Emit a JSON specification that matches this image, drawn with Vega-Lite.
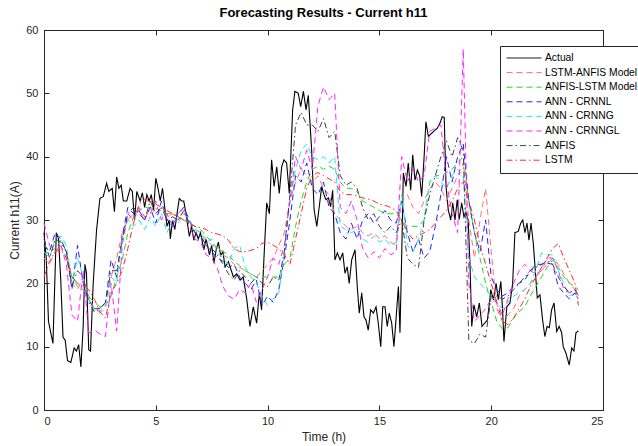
{
  "$schema": "https://vega.github.io/schema/vega-lite/v6.json",
  "width": 559,
  "height": 380,
  "autosize": {"type": "none"},
  "padding": {"left": 44, "top": 30, "right": 35, "bottom": 36},
  "background": "white",
  "title": {"text": "Forecasting Results - Current h11", "fontSize": 13, "fontWeight": "bold", "font": "Liberation Sans", "color": "#000000", "offset": 4},
  "config": {
    "view": {"stroke": "#262626", "strokeWidth": 1},
    "axis": {"domainColor": "#262626", "tickColor": "#262626", "labelColor": "#262626", "titleColor": "#262626", "tickSize": -5, "labelFont": "Liberation Sans", "titleFont": "Liberation Sans", "labelFontSize": 11, "titleFontSize": 12, "titleFontWeight": "normal", "grid": false},
    "legend": {"orient": "none", "legendX": 456, "legendY": 16, "title": null, "symbolType": "stroke", "symbolSize": 1225, "symbolStrokeWidth": 1, "clipHeight": 12, "labelFont": "Liberation Sans", "labelFontSize": 10.3, "labelColor": "#000000", "labelOffset": 3, "labelLimit": 200, "padding": 6, "rowPadding": 2.6, "fillColor": "white", "strokeColor": "#262626", "strokeWidth": 1, "cornerRadius": 0}
  },
  "resolve": {"axis": {"x": "independent", "y": "independent"}},
  "layer": [
    {
      "data": {"values": [
        {"t":0.0,"A":28},{"t":0.1,"A":24},{"t":0.2,"A":14},{"t":0.4,"A":10.5},{"t":0.55,"A":28},{"t":0.65,"A":27},{"t":0.75,"A":20.5},{"t":0.85,"A":11.5},{"t":0.95,"A":11},{"t":1.05,"A":7.8},{"t":1.2,"A":7.5},{"t":1.35,"A":9.8},{"t":1.45,"A":9.3},{"t":1.55,"A":10.3},{"t":1.65,"A":6.8},{"t":1.75,"A":13},{"t":1.83,"A":23},{"t":1.9,"A":21.6},{"t":2.0,"A":9.5},{"t":2.08,"A":9.3},{"t":2.2,"A":20},{"t":2.35,"A":28.4},{"t":2.5,"A":33.4},{"t":2.65,"A":33.7},{"t":2.8,"A":35.8},{"t":2.9,"A":34.5},{"t":3.05,"A":35},{"t":3.15,"A":31.3},{"t":3.25,"A":36.8},{"t":3.35,"A":35},{"t":3.45,"A":35.5},{"t":3.55,"A":33},{"t":3.7,"A":33},{"t":3.85,"A":35},{"t":3.95,"A":34.5},{"t":4.05,"A":30},{"t":4.15,"A":34.5},{"t":4.3,"A":33},{"t":4.4,"A":34.3},{"t":4.5,"A":32},{"t":4.6,"A":34},{"t":4.7,"A":33},{"t":4.8,"A":34},{"t":4.9,"A":31.6},{"t":5.0,"A":36.6},{"t":5.1,"A":35},{"t":5.2,"A":33},{"t":5.3,"A":35},{"t":5.4,"A":32},{"t":5.5,"A":29},{"t":5.6,"A":30},{"t":5.65,"A":27},{"t":5.75,"A":30},{"t":5.85,"A":28.5},{"t":5.95,"A":31},{"t":6.05,"A":33.4},{"t":6.15,"A":33},{"t":6.25,"A":33},{"t":6.35,"A":31},{"t":6.5,"A":27.4},{"t":6.6,"A":29},{"t":6.7,"A":26.8},{"t":6.8,"A":28},{"t":6.9,"A":27},{"t":7.0,"A":28},{"t":7.15,"A":25.3},{"t":7.25,"A":27},{"t":7.4,"A":24.5},{"t":7.5,"A":26},{"t":7.6,"A":23.2},{"t":7.7,"A":25.3},{"t":7.8,"A":26.5},{"t":7.9,"A":24.4},{"t":8.0,"A":25},{"t":8.1,"A":22.6},{"t":8.25,"A":23.4},{"t":8.47,"A":21},{"t":8.62,"A":21.5},{"t":8.77,"A":20.5},{"t":8.91,"A":21},{"t":9.07,"A":17.4},{"t":9.21,"A":13.2},{"t":9.36,"A":16.3},{"t":9.51,"A":13.7},{"t":9.63,"A":18.5},{"t":9.73,"A":15.8},{"t":9.84,"A":24.2},{"t":9.96,"A":32.7},{"t":10.08,"A":31},{"t":10.18,"A":39.5},{"t":10.29,"A":35.3},{"t":10.41,"A":38.4},{"t":10.52,"A":34.2},{"t":10.63,"A":38.4},{"t":10.73,"A":39.5},{"t":10.85,"A":39},{"t":10.97,"A":34.2},{"t":11.12,"A":47.4},{"t":11.22,"A":50.3},{"t":11.37,"A":50},{"t":11.48,"A":47.9},{"t":11.6,"A":50.3},{"t":11.72,"A":47.4},{"t":11.82,"A":49.7},{"t":11.97,"A":41},{"t":12.08,"A":31.6},{"t":12.2,"A":29},{"t":12.31,"A":32.1},{"t":12.42,"A":35.3},{"t":12.52,"A":34},{"t":12.61,"A":33.2},{"t":12.72,"A":33.5},{"t":12.82,"A":32.1},{"t":12.91,"A":34.7},{"t":13.01,"A":23.7},{"t":13.12,"A":24.8},{"t":13.24,"A":23.7},{"t":13.36,"A":24.8},{"t":13.46,"A":21.6},{"t":13.56,"A":22.6},{"t":13.65,"A":20},{"t":13.76,"A":23.7},{"t":13.91,"A":25.3},{"t":14.01,"A":19.5},{"t":14.1,"A":15.3},{"t":14.21,"A":18.5},{"t":14.31,"A":14.7},{"t":14.4,"A":14.2},{"t":14.5,"A":12.6},{"t":14.61,"A":15.8},{"t":14.73,"A":15.3},{"t":14.85,"A":16.3},{"t":14.95,"A":13.7},{"t":15.06,"A":10},{"t":15.15,"A":16.3},{"t":15.25,"A":16.3},{"t":15.35,"A":13.2},{"t":15.44,"A":15.3},{"t":15.55,"A":13.7},{"t":15.65,"A":10},{"t":15.74,"A":14.2},{"t":15.85,"A":19.5},{"t":15.92,"A":12.2},{"t":16.0,"A":24.8},{"t":16.07,"A":37.4},{"t":16.19,"A":35.3},{"t":16.29,"A":39},{"t":16.4,"A":34.7},{"t":16.49,"A":40.3},{"t":16.59,"A":36.3},{"t":16.7,"A":37.9},{"t":16.8,"A":37},{"t":16.89,"A":33.7},{"t":17.0,"A":40},{"t":17.08,"A":45.5},{"t":17.19,"A":43.2},{"t":17.34,"A":43.7},{"t":17.49,"A":44.2},{"t":17.59,"A":44.5},{"t":17.71,"A":45.3},{"t":17.81,"A":46.3},{"t":17.9,"A":46.2},{"t":17.98,"A":35.3},{"t":18.08,"A":31.6},{"t":18.19,"A":30},{"t":18.28,"A":32.7},{"t":18.38,"A":30},{"t":18.48,"A":33.2},{"t":18.57,"A":30.1},{"t":18.68,"A":32.7},{"t":18.78,"A":30.5},{"t":18.87,"A":31.2},{"t":18.97,"A":30},{"t":19.05,"A":23.2},{"t":19.13,"A":13.2},{"t":19.23,"A":16.6},{"t":19.35,"A":14.7},{"t":19.47,"A":16.9},{"t":19.59,"A":13.2},{"t":19.71,"A":13.7},{"t":19.83,"A":14.2},{"t":19.92,"A":16.9},{"t":19.98,"A":19},{"t":20.1,"A":17.4},{"t":20.22,"A":20},{"t":20.32,"A":17.4},{"t":20.43,"A":20.3},{"t":20.51,"A":15.8},{"t":20.57,"A":10.8},{"t":20.7,"A":16.3},{"t":20.84,"A":16.9},{"t":20.96,"A":20},{"t":21.06,"A":28},{"t":21.21,"A":28.2},{"t":21.32,"A":29.5},{"t":21.41,"A":30},{"t":21.51,"A":28},{"t":21.6,"A":29.5},{"t":21.69,"A":26.8},{"t":21.78,"A":29.5},{"t":21.88,"A":26.4},{"t":21.96,"A":22.6},{"t":22.06,"A":17.7},{"t":22.18,"A":18.2},{"t":22.3,"A":14.2},{"t":22.4,"A":11.6},{"t":22.5,"A":13.2},{"t":22.6,"A":13},{"t":22.7,"A":15.8},{"t":22.81,"A":16.9},{"t":22.93,"A":12.4},{"t":23.04,"A":13.2},{"t":23.15,"A":12.2},{"t":23.22,"A":10},{"t":23.34,"A":9},{"t":23.49,"A":7.1},{"t":23.6,"A":9.8},{"t":23.7,"A":9.3},{"t":23.79,"A":12.2},{"t":23.9,"A":12.5}
      ]},
      "transform": [{"fold": ["A"], "as": ["series", "v"]}],
      "mark": {"type": "line", "strokeWidth": 1.1, "strokeCap": "butt"},
      "encoding": {
        "x": {"field": "t", "type": "quantitative", "scale": {"domain": [0, 25], "nice": false, "zero": false}, "axis": {"orient": "bottom", "values": [0, 5, 10, 15, 20, 25], "title": "Time (h)", "labelPadding": 10, "titlePadding": 5}},
        "y": {"field": "v", "type": "quantitative", "scale": {"domain": [0, 60], "nice": false}, "axis": {"orient": "left", "values": [0, 10, 20, 30, 40, 50, 60], "title": "Current h11(A)", "labelPadding": 11, "titlePadding": 4}},
        "color": {"field": "series", "type": "nominal", "scale": {"domain": ["A", "a", "b", "c", "d", "e", "f", "g"], "range": ["#000000", "#ff6e6e", "#22d822", "#2020ff", "#22e8e8", "#ff22ff", "#404040", "#ff2828"]}, "legend": {"labelExpr": "datum.label=='A'?'Actual':datum.label=='a'?'LSTM-ANFIS Model':datum.label=='b'?'ANFIS-LSTM Model':datum.label=='c'?'ANN - CRNNL':datum.label=='d'?'ANN - CRNNG':datum.label=='e'?'ANN - CRNNGL':datum.label=='f'?'ANFIS':'LSTM'"}},
        "strokeDash": {"field": "series", "type": "nominal", "scale": {"domain": ["A", "a", "b", "c", "d", "e", "f", "g"], "range": [[1, 0], [6, 4], [6, 4], [6, 4], [6, 4], [6, 4], [6, 3, 1.5, 3], [6, 3, 1.5, 3]]}, "legend": {"labelExpr": "datum.label=='A'?'Actual':datum.label=='a'?'LSTM-ANFIS Model':datum.label=='b'?'ANFIS-LSTM Model':datum.label=='c'?'ANN - CRNNL':datum.label=='d'?'ANN - CRNNG':datum.label=='e'?'ANN - CRNNGL':datum.label=='f'?'ANFIS':'LSTM'"}}
      }
    },
    {
      "data": {"values": [
        {"t":0,"a":24,"b":26,"c":26,"d":25,"e":29.5,"f":27,"g":21},
        {"t":0.25,"a":23,"b":25,"c":25,"d":24,"e":26,"f":24,"g":23.5},
        {"t":0.5,"a":25,"b":25.5,"c":28,"d":27,"e":25,"f":27,"g":25},
        {"t":0.75,"a":26,"b":26.8,"c":27,"d":27.5,"e":26,"f":26.5,"g":25.3},
        {"t":1.0,"a":24,"b":25,"c":25,"d":26,"e":23,"f":25,"g":24},
        {"t":1.25,"a":20,"b":21,"c":19,"d":20,"e":15,"f":19.5,"g":21},
        {"t":1.5,"a":19,"b":19.5,"c":26,"d":24,"e":14,"f":22,"g":20},
        {"t":1.75,"a":21,"b":19,"c":20,"d":21,"e":22,"f":21,"g":19.5},
        {"t":2.0,"a":18,"b":17.9,"c":17.4,"d":17.5,"e":12.2,"f":17,"g":19},
        {"t":2.25,"a":16,"b":17,"c":16,"d":15.8,"e":12.6,"f":15.5,"g":17.5},
        {"t":2.5,"a":15.5,"b":16.3,"c":16,"d":15.3,"e":12,"f":16,"g":15.5},
        {"t":2.75,"a":17,"b":16.5,"c":17,"d":16,"e":11.6,"f":17,"g":14.5},
        {"t":3.0,"a":21,"b":18,"c":23.7,"d":21,"e":20,"f":22,"g":18.5},
        {"t":3.25,"a":24,"b":21,"c":21,"d":20,"e":12.5,"f":22,"g":20},
        {"t":3.5,"a":28,"b":23.7,"c":27.4,"d":27,"e":26,"f":27,"g":22},
        {"t":3.75,"a":30,"b":28,"c":32,"d":30,"e":31,"f":31,"g":25.5},
        {"t":4.0,"a":31,"b":30.5,"c":31,"d":29,"e":30,"f":32,"g":29.5},
        {"t":4.25,"a":31.5,"b":31.5,"c":31.5,"d":30,"e":32,"f":31,"g":32.5},
        {"t":4.5,"a":30,"b":32,"c":30,"d":28.5,"e":30.5,"f":30,"g":33.3},
        {"t":4.75,"a":32,"b":32,"c":32,"d":30.5,"e":31,"f":33,"g":33},
        {"t":5.0,"a":31,"b":31.8,"c":29.5,"d":29,"e":33,"f":31,"g":32.5},
        {"t":5.25,"a":32,"b":31.5,"c":33,"d":31,"e":30,"f":32,"g":32},
        {"t":5.5,"a":30.5,"b":31,"c":30,"d":28,"e":31,"f":30,"g":31.5},
        {"t":5.75,"a":31,"b":31,"c":29,"d":30,"e":29,"f":30.5,"g":31},
        {"t":6.0,"a":30,"b":30.5,"c":31,"d":29.5,"e":31,"f":30,"g":30.5},
        {"t":6.25,"a":31,"b":30,"c":32,"d":31,"e":32,"f":31.5,"g":30},
        {"t":6.5,"a":30,"b":29.5,"c":30,"d":30,"e":29,"f":29.5,"g":29.5},
        {"t":6.75,"a":28.5,"b":29,"c":28,"d":28.5,"e":27,"f":28,"g":29},
        {"t":7.0,"a":28,"b":28.5,"c":27.5,"d":28,"e":26.5,"f":27.5,"g":28.8},
        {"t":7.25,"a":27,"b":27.5,"c":26,"d":26.5,"e":24.5,"f":26,"g":28.5},
        {"t":7.5,"a":26,"b":26.5,"c":25,"d":27,"e":24,"f":25.5,"g":28},
        {"t":7.75,"a":26,"b":25.5,"c":24,"d":25,"e":22.4,"f":24.5,"g":27.8},
        {"t":8.0,"a":24.5,"b":25,"c":23.5,"d":24,"e":19.5,"f":23,"g":27.5},
        {"t":8.25,"a":24,"b":24.5,"c":22.5,"d":23,"e":18,"f":21.5,"g":26.8},
        {"t":8.5,"a":23,"b":23.5,"c":23,"d":25.5,"e":17.5,"f":20.5,"g":25.5},
        {"t":8.75,"a":22.5,"b":22.8,"c":21,"d":26,"e":19,"f":22,"g":25},
        {"t":9.0,"a":22,"b":22,"c":20,"d":22.5,"e":18.5,"f":21,"g":25},
        {"t":9.25,"a":21.5,"b":21.5,"c":19,"d":21,"e":20,"f":20,"g":25.2},
        {"t":9.5,"a":21,"b":21,"c":20.5,"d":20,"e":17,"f":21,"g":25.5},
        {"t":9.75,"a":22,"b":21,"c":16.5,"d":18,"e":19,"f":20,"g":26.3},
        {"t":10.0,"a":23,"b":21,"c":18,"d":16.5,"e":21,"f":19.5,"g":26.5},
        {"t":10.25,"a":24,"b":21,"c":17,"d":17.5,"e":24,"f":21,"g":26},
        {"t":10.5,"a":26,"b":21,"c":19,"d":18.5,"e":23,"f":20.5,"g":25.5},
        {"t":10.75,"a":28,"b":23,"c":24,"d":25,"e":26,"f":25,"g":24.5},
        {"t":11.0,"a":33,"b":24,"c":30,"d":33,"e":33,"f":34,"g":23},
        {"t":11.25,"a":36,"b":29,"c":37,"d":38,"e":40,"f":45,"g":27},
        {"t":11.5,"a":38,"b":33,"c":36,"d":41,"e":38,"f":47,"g":31},
        {"t":11.75,"a":37,"b":36,"c":39,"d":42,"e":41,"f":45,"g":35},
        {"t":12.0,"a":36,"b":38,"c":35,"d":40,"e":38,"f":45,"g":37},
        {"t":12.25,"a":37,"b":38.5,"c":34,"d":39.5,"e":48,"f":44,"g":37.5},
        {"t":12.5,"a":35,"b":38,"c":36,"d":40,"e":51,"f":46,"g":37},
        {"t":12.75,"a":34,"b":38.5,"c":32,"d":39,"e":49,"f":43,"g":36.5},
        {"t":13.0,"a":31,"b":38,"c":31,"d":40,"e":50,"f":44,"g":36},
        {"t":13.25,"a":30,"b":36,"c":28,"d":29,"e":32,"f":37,"g":34.5},
        {"t":13.5,"a":29,"b":35,"c":27,"d":28.5,"e":31,"f":35.5,"g":34},
        {"t":13.75,"a":28.5,"b":35,"c":29.5,"d":28,"e":33,"f":36,"g":34},
        {"t":14.0,"a":29,"b":34.5,"c":27,"d":28.5,"e":30,"f":35,"g":33.8},
        {"t":14.25,"a":28,"b":33,"c":30,"d":27,"e":25.5,"f":32,"g":33.5},
        {"t":14.5,"a":27.5,"b":32.5,"c":31,"d":26.5,"e":24,"f":30,"g":33.3},
        {"t":14.75,"a":28,"b":32,"c":29.5,"d":27.5,"e":25,"f":31,"g":33},
        {"t":15.0,"a":27,"b":31.5,"c":30.5,"d":26.5,"e":24,"f":29,"g":32.5},
        {"t":15.25,"a":27.5,"b":31,"c":31.5,"d":27,"e":25.5,"f":28,"g":32.3},
        {"t":15.5,"a":26.5,"b":31,"c":30,"d":26,"e":24.5,"f":29,"g":32},
        {"t":15.75,"a":26,"b":31,"c":29.5,"d":26.5,"e":25,"f":28,"g":31.5},
        {"t":16.0,"a":33,"b":30,"c":33,"d":34,"e":40,"f":30,"g":30},
        {"t":16.25,"a":34,"b":29,"c":28,"d":26,"e":36,"f":24,"g":28},
        {"t":16.5,"a":32,"b":29,"c":25,"d":25,"e":38,"f":23,"g":27},
        {"t":16.75,"a":31,"b":29,"c":27,"d":27,"e":36,"f":22.5,"g":27.5},
        {"t":17.0,"a":33,"b":30,"c":24,"d":30,"e":37,"f":30,"g":28},
        {"t":17.25,"a":35,"b":36,"c":25,"d":36,"e":44,"f":34,"g":28.5},
        {"t":17.5,"a":36,"b":37,"c":29,"d":37,"e":44.5,"f":37,"g":29.5},
        {"t":17.75,"a":35,"b":37,"c":34,"d":36,"e":45,"f":40,"g":30.5},
        {"t":18.0,"a":33,"b":37.5,"c":40,"d":35,"e":36,"f":42.5,"g":31.5},
        {"t":18.25,"a":35,"b":38,"c":36,"d":37,"e":31,"f":40,"g":33},
        {"t":18.5,"a":37,"b":39,"c":40,"d":38,"e":28,"f":43,"g":35},
        {"t":18.75,"a":39,"b":40,"c":42,"d":37,"e":57,"f":41,"g":36},
        {"t":19.0,"a":30,"b":33,"c":33,"d":24,"e":20,"f":11,"g":33},
        {"t":19.25,"a":24,"b":28,"c":28,"d":21,"e":14,"f":10.5,"g":30},
        {"t":19.5,"a":30,"b":24,"c":25,"d":20,"e":15,"f":12,"g":26},
        {"t":19.75,"a":35,"b":20,"c":30,"d":19,"e":16,"f":11.5,"g":23},
        {"t":20.0,"a":25,"b":17,"c":21,"d":18,"e":17.5,"f":18,"g":20},
        {"t":20.25,"a":16,"b":14,"c":19,"d":17,"e":17,"f":18,"g":17},
        {"t":20.5,"a":14,"b":12.8,"c":18,"d":16,"e":15,"f":17.5,"g":14},
        {"t":20.75,"a":15,"b":13,"c":18.5,"d":17,"e":17.5,"f":18,"g":13.5},
        {"t":21.0,"a":16,"b":14.5,"c":19.5,"d":18,"e":20,"f":19,"g":14.5},
        {"t":21.25,"a":18,"b":15.5,"c":20,"d":18.5,"e":22,"f":20,"g":16},
        {"t":21.5,"a":19,"b":16.3,"c":20.5,"d":19,"e":23,"f":21,"g":17.5},
        {"t":21.75,"a":20,"b":18,"c":22,"d":20,"e":22,"f":22,"g":19.5},
        {"t":22.0,"a":21,"b":19.5,"c":23,"d":22,"e":21.5,"f":22.5,"g":21},
        {"t":22.25,"a":22,"b":21,"c":23,"d":24.8,"e":22,"f":23,"g":22.5},
        {"t":22.5,"a":23,"b":22.5,"c":23.2,"d":24.5,"e":24,"f":23.5,"g":24},
        {"t":22.75,"a":24,"b":23.7,"c":23,"d":24.5,"e":24,"f":23,"g":25.5},
        {"t":23.0,"a":23,"b":22.5,"c":19.5,"d":22,"e":22,"f":21,"g":26.3},
        {"t":23.25,"a":21.5,"b":21,"c":18.5,"d":20,"e":19,"f":19.5,"g":24},
        {"t":23.5,"a":20,"b":20,"c":17.5,"d":18,"e":18.5,"f":18.5,"g":22},
        {"t":23.75,"a":19,"b":19.5,"c":18.5,"d":18.5,"e":19,"f":19,"g":20},
        {"t":23.9,"a":18,"b":19,"c":17.5,"d":17.5,"e":18,"f":18,"g":16.5}
      ]},
      "transform": [{"fold": ["a", "b", "c", "d", "e", "f", "g"], "as": ["series", "v"]}],
      "mark": {"type": "line", "strokeWidth": 1, "strokeCap": "butt"},
      "encoding": {
        "x": {"field": "t", "type": "quantitative", "axis": {"orient": "top", "values": [0, 5, 10, 15, 20, 25], "labels": false, "title": null}},
        "y": {"field": "v", "type": "quantitative", "axis": {"orient": "right", "values": [0, 10, 20, 30, 40, 50, 60], "labels": false, "title": null}},
        "color": {"field": "series", "type": "nominal"},
        "strokeDash": {"field": "series", "type": "nominal"}
      }
    }
  ]
}
